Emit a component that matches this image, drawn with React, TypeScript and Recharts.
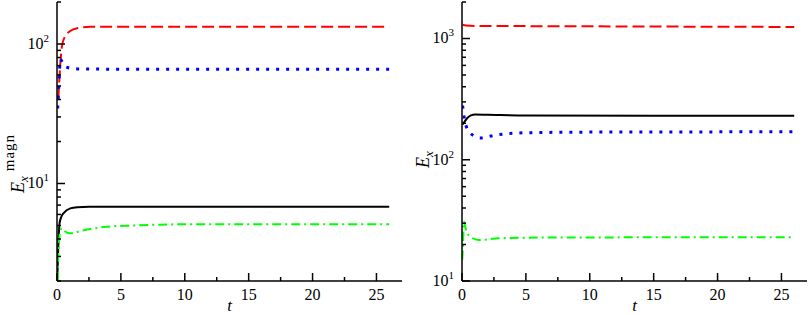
import React from 'react';
import { LineChart, Line, XAxis, YAxis } from 'recharts';

// time samples and values
const tRedL = [0.1, 0.25, 0.39, 0.6, 1.04, 1.6, 2.6, 5, 10, 26];
const eRedL = [40, 70, 97, 112, 124, 130, 133, 133, 133, 133];
const tBlueL = [0.05, 0.12, 0.2, 0.26, 0.35, 0.52, 0.9, 1.6, 5, 26];
const eBlueL = [34.5, 45, 65, 78, 76, 70, 67.5, 66.3, 66, 66];
const tBlackL = [0.02, 0.1, 0.2, 0.35, 0.52, 1.04, 1.6, 2.5, 10, 26];
const eBlackL = [2.0, 3.5, 5.2, 5.8, 6.14, 6.63, 6.75, 6.8, 6.8, 6.8];
const tGreenL = [0.05, 0.1, 0.2, 0.3, 0.39, 0.6, 1.04, 2, 3.9, 6, 10, 26];
const eGreenL = [2.0, 3.0, 4.2, 4.7, 4.77, 4.55, 4.4, 4.6, 4.9, 5.0, 5.1, 5.1];

const tRedR = [0.05, 0.3, 1, 5, 15, 26];
const eRedR = [1300, 1280, 1270, 1265, 1255, 1245];
const tBlackR = [0.05, 0.13, 0.4, 0.7, 1.03, 2, 5, 15, 26];
const eBlackR = [195, 201, 220, 232, 236, 235, 232, 231, 231];
const tBlueR = [0.05, 0.1, 0.2, 0.4, 0.65, 1, 1.4, 2, 2.85, 5, 10, 26];
const eBlueR = [280, 250, 215, 180, 166, 156, 151, 155, 161, 167, 169, 170];
const tGreenR = [0.02, 0.08, 0.15, 0.25, 0.5, 1.3, 2.86, 6, 26];
const eGreenR = [15, 20, 30.9, 28, 24, 21.8, 22.5, 22.8, 23];

const tTicks = [0, 2.5, 5, 7.5, 10, 12.5, 15, 17.5, 20, 22.5, 25];
const yTicksL = [2, 3, 4, 5, 6, 7, 8, 9, 10, 20, 30, 40, 50, 60, 70, 80, 90, 100, 200];
const yTicksR = [10, 20, 30, 40, 50, 60, 70, 80, 90, 100, 200, 300, 400, 500, 600, 700, 800, 900, 1000, 2000];

const zip = (t: number[], e: number[]) => t.map((v, i) => ({ t: v, e: e[i] }));

const FONT = '"Liberation Serif", "Times New Roman", serif';
const TXT = { fontFamily: FONT };
const AXIS = { stroke: '#000', strokeWidth: 1.5 };

const isDecade = (v: number) => {
  const p = Math.log10(v);
  return Math.abs(p - Math.round(p)) < 1e-6;
};

const YTick = ({ x, y, payload, side }: any) => {
  const v = payload.value;
  const major = isDecade(v);
  const len = (major ? 8 : 4) * (side === 'left' ? 1 : -1);
  return (
    <g>
      <line x1={x} x2={x + len} y1={y} y2={y} stroke="#000" strokeWidth={1.5} />
      {major && side === 'left' && (
        <text x={x - 8} y={y} dy={5} textAnchor="end" style={TXT} fontSize={16} fill="#000">
          10<tspan dy={-7} fontSize={11}>{Math.round(Math.log10(v))}</tspan>
        </text>
      )}
    </g>
  );
};

const XTick = ({ x, y, payload, side }: any) => {
  const v = payload.value;
  const major = v % 5 === 0;
  const len = (major ? 8 : 4) * (side === 'bottom' ? -1 : 1);
  return (
    <g>
      <line x1={x} x2={x} y1={y} y2={y + len} stroke="#000" strokeWidth={1.5} />
      {major && side === 'bottom' && (
        <text x={x} y={y + 19} textAnchor="middle" style={TXT} fontSize={16} fill="#000">
          {v}
        </text>
      )}
    </g>
  );
};

interface Series {
  data: { t: number; e: number }[];
  color: string;
  dash?: string;
  width: number;
}

interface PanelProps {
  left: number;
  domain: [number, number];
  ticks: number[];
  series: Series[];
  label: React.ReactNode;
  labelY: number;
}

function Panel({ left, domain, ticks, series, label, labelY }: PanelProps) {
  return (
    <div style={{ position: 'absolute', left, top: 0 }}>
      <LineChart width={405} height={315} margin={{ top: 2, right: 3, bottom: 0, left: 0 }}>
        <XAxis
          xAxisId="b"
          type="number"
          dataKey="t"
          domain={[0, 27]}
          allowDataOverflow
          ticks={tTicks}
          interval={0}
          height={34}
          tickSize={0}
          tickMargin={0}
          axisLine={AXIS}
          tick={<XTick side="bottom" />}
          label={{
            content: ({ viewBox }: any) => (
              <text
                x={viewBox.x + viewBox.width / 2}
                y={viewBox.y + 30}
                textAnchor="middle"
                style={TXT}
                fontSize={17}
                fontStyle="italic"
              >
                t
              </text>
            ),
          }}
        />
        <XAxis
          xAxisId="top"
          orientation="top"
          type="number"
          dataKey="t"
          domain={[0, 27]}
          allowDataOverflow
          ticks={tTicks}
          interval={0}
          height={0}
          tickSize={0}
          tickMargin={0}
          axisLine={AXIS}
          tick={<XTick side="top" />}
        />
        <YAxis
          yAxisId="l"
          type="number"
          scale="log"
          domain={domain}
          allowDataOverflow
          ticks={ticks}
          interval={0}
          width={57}
          tickSize={0}
          tickMargin={0}
          axisLine={AXIS}
          tick={<YTick side="left" />}
          label={{
            content: ({ viewBox }: any) => (
              <text
                x={viewBox.x + 24}
                y={labelY}
                transform={`rotate(-90, ${viewBox.x + 24}, ${labelY})`}
                textAnchor="start"
                style={TXT}
                fontSize={18}
              >
                {label}
              </text>
            ),
          }}
        />
        <YAxis
          yAxisId="r"
          orientation="right"
          type="number"
          scale="log"
          domain={domain}
          allowDataOverflow
          ticks={ticks}
          interval={0}
          width={0}
          tickSize={0}
          tickMargin={0}
          axisLine={AXIS}
          tick={<YTick side="right" />}
        />
        {series.map((s, i) => (
          <Line
            key={i}
            xAxisId="b"
            yAxisId="l"
            data={s.data}
            dataKey="e"
            type="monotone"
            stroke={s.color}
            strokeWidth={s.width}
            strokeDasharray={s.dash}
            dot={false}
            isAnimationActive={false}
          />
        ))}
      </LineChart>
    </div>
  );
}

export default function App() {
  const leftSeries: Series[] = [
    { data: zip(tRedL, eRedL), color: '#ff0000', dash: '12 5', width: 2 },
    { data: zip(tBlueL, eBlueL), color: '#0000ff', dash: '3 7', width: 3 },
    { data: zip(tBlackL, eBlackL), color: '#000000', width: 2 },
    { data: zip(tGreenL, eGreenL), color: '#00ff00', dash: '9 4 2 4', width: 2 },
  ];
  const rightSeries: Series[] = [
    { data: zip(tRedR, eRedR), color: '#ff0000', dash: '12 5', width: 2 },
    { data: zip(tBlueR, eBlueR), color: '#0000ff', dash: '3 7', width: 3 },
    { data: zip(tBlackR, eBlackR), color: '#000000', width: 2 },
    { data: zip(tGreenR, eGreenR), color: '#00ff00', dash: '9 4 2 4', width: 2 },
  ];
  return (
    <div style={{ position: 'absolute', left: 0, top: 0, width: 810, height: 315, background: '#fff' }}>
      <Panel
        left={0}
        domain={[2, 200]}
        ticks={yTicksL}
        series={leftSeries}
        labelY={193}
        label={
          <>
            <tspan fontStyle="italic">E</tspan>
            <tspan fontStyle="italic" fontSize={13} dy={4}>x</tspan>
            <tspan fontSize={15} dy={-14} dx={5} letterSpacing={1}>magn</tspan>
          </>
        }
      />
      <Panel
        left={405}
        domain={[10, 2000]}
        ticks={yTicksR}
        series={rightSeries}
        labelY={168}
        label={
          <>
            <tspan fontStyle="italic">E</tspan>
            <tspan fontStyle="italic" fontSize={13} dy={4}>x</tspan>
          </>
        }
      />
    </div>
  );
}
